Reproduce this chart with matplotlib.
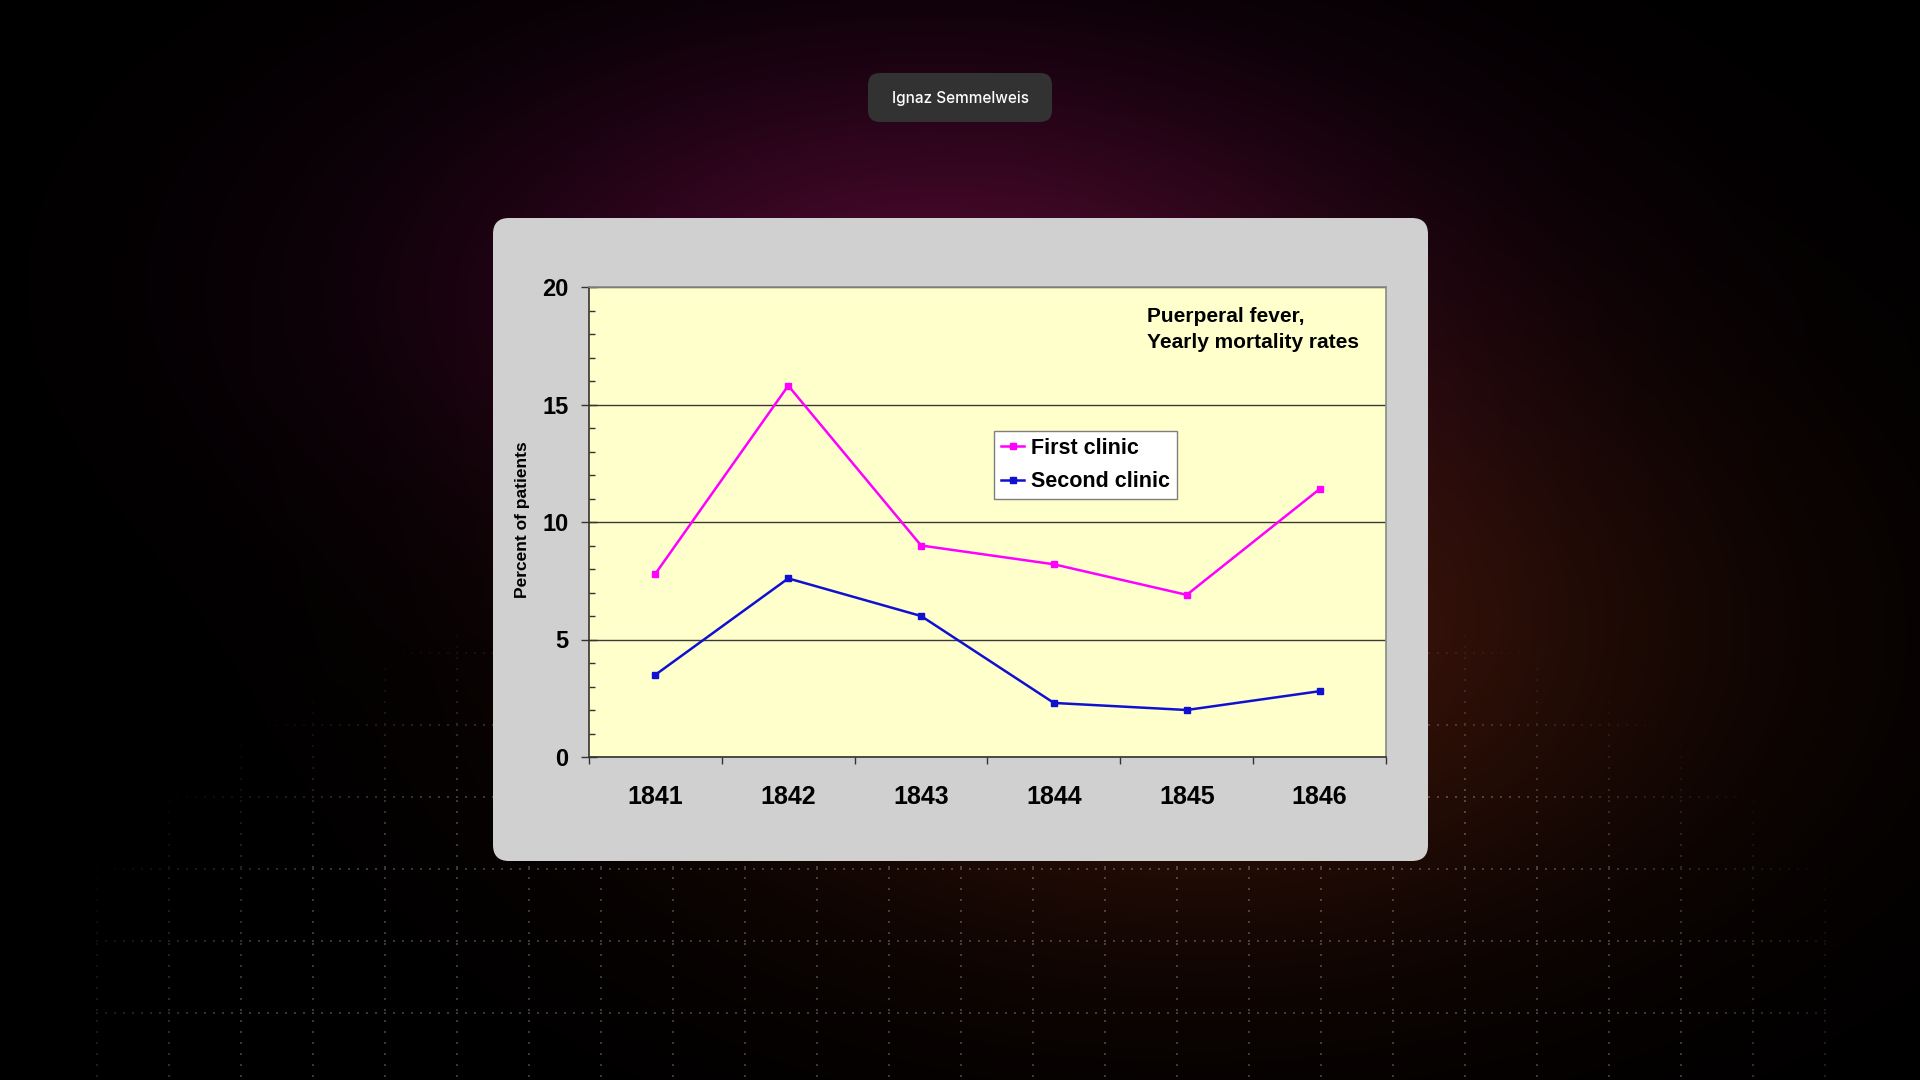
import numpy as np
import matplotlib
matplotlib.use("Agg")
import matplotlib.pyplot as plt
from matplotlib.patches import FancyBboxPatch
from matplotlib.ticker import MultipleLocator

# chart data (yearly mortality, percent of patients)
years = ['1841', '1842', '1843', '1844', '1845', '1846']
first_clinic = [7.8, 15.8, 9.0, 8.2, 6.9, 11.4]
second_clinic = [3.5, 7.6, 6.0, 2.3, 2.0, 2.8]
series_labels = ['First clinic', 'Second clinic']
y_ticks = [0, 5, 10, 15, 20]

W, H = 1920, 1080
fig = plt.figure(figsize=(19.2, 10.8), dpi=100)

# --- dark background with glows and a faded dotted grid ---
yy, xx = np.mgrid[0:H, 0:W].astype(float)
bg = np.zeros((H, W, 3))
g1 = np.exp(-(((xx - 920) / 480) ** 2 + ((yy - 280) / 240) ** 2))
g2 = np.exp(-(((xx - 1200) / 500) ** 2 + ((yy - 640) / 300) ** 2))
bg += g1[..., None] * np.array([62, 6, 40]) / 255
bg += g2[..., None] * np.array([58, 20, 9]) / 255

dots = np.zeros((H, W))
for y0 in range(580, H, 72):
    for x in range(96, 1826, 9):
        dots[y0:y0 + 2, x:x + 2] = 1
for x0 in range(96, 1826, 72):
    for y in range(580, H, 11):
        dots[y:y + 2, x0:x0 + 2] = 1
r = ((xx - 960) / 980) ** 2 + ((yy - 1150) / 620) ** 2
fade = np.clip((1 - r) / 0.4, 0, 1)
bg += (dots * fade)[..., None] * 0.22
bg = np.clip(bg, 0, 1)

bgax = fig.add_axes([0, 0, 1, 1])
bgax.imshow(bg, extent=(0, W, H, 0), interpolation='nearest')
bgax.set_xlim(0, W)
bgax.set_ylim(H, 0)
bgax.axis('off')

# title pill
bgax.add_patch(FancyBboxPatch((868, 73), 184, 49,
                              boxstyle="round,pad=0,rounding_size=12",
                              fc='#323232', ec='none'))
bgax.text(960, 98, 'Ignaz Semmelweis', color='white', fontsize=11, fontweight='medium',
          family=['Inter', 'DejaVu Sans'], ha='center', va='center')

# grey chart panel
bgax.add_patch(FancyBboxPatch((493, 218), 935, 643,
                              boxstyle="round,pad=0,rounding_size=16",
                              fc='#d0d0d0', ec='none'))

# --- the chart itself ---
plt.rcParams['font.family'] = ['Liberation Sans', 'DejaVu Sans']
ax = fig.add_axes([589 / W, 1 - 757 / H, (1386 - 589) / W, (757 - 287) / H])
ax.set_facecolor('#ffffcc')

x = np.arange(len(years))
ax.plot(x, first_clinic, color='#ff00ff', lw=1.8, marker='s', ms=5,
        label=series_labels[0], zorder=3)
ax.plot(x, second_clinic, color='#1010d0', lw=1.8, marker='s', ms=5,
        label=series_labels[1], zorder=3)

ax.set_xlim(-0.5, len(years) - 0.5)
ax.set_ylim(0, 20)
ax.set_yticks(y_ticks)
ax.yaxis.set_minor_locator(MultipleLocator(1))
ax.yaxis.grid(True, which='major', color='#3a3a3a', lw=1)
ax.set_axisbelow(True)

ax.set_xticks(np.arange(-0.5, len(years), 1))
ax.set_xticklabels([])
ax.set_xticks(x, minor=True)
ax.set_xticklabels(years, minor=True, fontsize=18, fontweight='bold')
ax.tick_params(axis='x', which='major', direction='out', length=5, width=1, color='#333333')
ax.tick_params(axis='x', which='minor', length=0, pad=20.5)
ax.tick_params(axis='y', which='major', direction='inout', length=11.5, width=1,
               color='#333333', pad=9, labelsize=17)
ax.tick_params(axis='y', which='minor', direction='in', length=4.3, width=1, color='#333333')
for lab in ax.get_yticklabels():
    lab.set_fontweight('bold')

for s in ['left', 'bottom']:
    ax.spines[s].set_color('#333333')
    ax.spines[s].set_linewidth(1.2)
for s in ['top', 'right']:
    ax.spines[s].set_color('#8a8a8a')
    ax.spines[s].set_linewidth(1.2)

ax.set_ylabel('Percent of patients', fontsize=12.5, fontweight='bold')
ax.yaxis.set_label_coords(-0.074, 0.504)

ax.text(0.700, 0.957, 'Puerperal fever,\nYearly mortality rates', transform=ax.transAxes,
        ha='left', va='top', fontsize=15, fontweight='bold', linespacing=1.48)

leg = ax.legend(loc='upper left', bbox_to_anchor=(0.508, 0.6936), borderaxespad=0,
                prop={'size': 15.5, 'weight': 'bold'}, handlelength=1.1, handletextpad=0.3,
                borderpad=0.32, labelspacing=0.58, fancybox=False, framealpha=1,
                edgecolor='#7f7f7f', facecolor='white')
leg.get_frame().set_linewidth(1)

fig.savefig('out.png', dpi=100, facecolor='black')
